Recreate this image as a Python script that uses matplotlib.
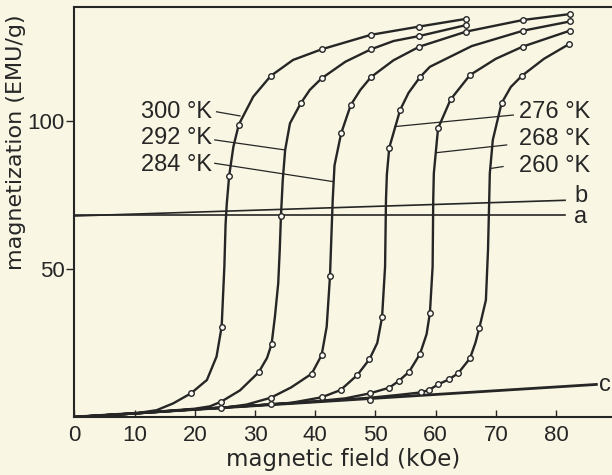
import numpy as np
import matplotlib
matplotlib.use("Agg")
import matplotlib.pyplot as plt

plt.rcParams['font.family'] = ['Liberation Sans', 'DejaVu Sans']

# traced curves (field kOe, magnetization EMU/g)
h_300 = [0, 10, 13.65, 16.4, 19.35, 22.0, 23.6, 24.45, 24.9, 25.1, 25.3, 25.7, 26.4, 27.3, 29.7, 32.6, 36.3, 41.06, 49.25, 57.3, 65.1]
m_300 = [0, 1.2, 2.3, 4.6, 8.0, 12.5, 20.4, 30.5, 50.8, 65, 72, 81.5, 91.3, 98.8, 108.2, 115.2, 120.6, 124.2, 129.1, 131.9, 134.5]

h_292 = [0, 10, 15, 20, 22.5, 24.4, 27.5, 30.6, 32.0, 32.75, 33.3, 33.85, 34.1, 34.3, 34.6, 35.0, 35.8, 37.6, 39.1, 41.06, 45, 49.25, 53, 57.3, 65.1]
m_292 = [0, 1.2, 2.0, 2.8, 3.6, 5.2, 9, 15.1, 20, 24.7, 33.9, 45.2, 56.4, 67.9, 80, 90.2, 99.2, 106.0, 110.5, 114.4, 120, 124.2, 127, 128.7, 132.4]

h_284 = [0, 10, 20, 24.3, 28.6, 32.6, 36, 39.4, 41.06, 41.9, 42.45, 42.7, 42.9, 43.2, 44.3, 45.9, 47.5, 49.25, 53, 57.3, 65.1, 74.5, 82.3]
m_284 = [0, 1.2, 2.6, 3.0, 4.2, 6.5, 10, 14.6, 20.9, 30.5, 47.6, 62.1, 73.3, 85, 95.8, 105.4, 110.5, 114.8, 120.5, 125.1, 130.2, 134.1, 136.1]

h_276 = [0, 10, 20, 30, 36, 41.06, 44.2, 47.0, 49.0, 50.3, 51.1, 51.6, 51.75, 51.9, 52.3, 54.1, 55.5, 57.4, 59.05, 66.0, 74.55, 82.3]
m_276 = [0, 1.2, 2.6, 3.9, 4.8, 6.65, 9.1, 14.2, 19.5, 25, 33.7, 50.8, 73.3, 82, 91.0, 103.7, 109.5, 114.8, 118.3, 125.3, 130.5, 133.6]

h_268 = [0, 10, 20, 30, 40, 45, 49.1, 52.3, 53.95, 55.6, 57.4, 58.5, 59.05, 59.5, 59.6, 59.7, 60.4, 62.5, 65.7, 70, 74.45, 82.3]
m_268 = [0, 1.2, 2.6, 3.9, 5.3, 6.3, 8.0, 9.9, 12.3, 15.3, 21.3, 28, 35.2, 50.8, 73.3, 82.3, 97.5, 107.3, 115.5, 121, 125.1, 130.5]

h_260 = [0, 10, 20, 30, 40, 49.1, 54, 57.5, 58.9, 60.4, 62.2, 63.75, 65.7, 66.6, 67.25, 68.35, 68.7, 68.9, 69.0, 69.5, 70.95, 72.5, 74.3, 78, 82.2]
m_260 = [0, 1.2, 2.6, 3.9, 5.2, 6.5, 7.5, 8.3, 9.1, 11.0, 12.7, 14.8, 19.8, 25, 30.0, 39.5, 56.4, 73.3, 82.3, 93.6, 106.0, 111.5, 115.2, 121, 126.0]

# measured points (open circles)
ph_300 = [19.35, 24.45, 25.7, 27.3, 32.6, 41.06, 49.25, 57.3, 65.1]
pm_300 = [8.0, 30.5, 81.5, 98.8, 115.2, 124.2, 129.1, 131.9, 134.5]
ph_292 = [24.4, 30.6, 32.75, 34.3, 37.6, 41.06, 49.25, 57.3, 65.1]
pm_292 = [5.2, 15.1, 24.7, 67.9, 106.0, 114.4, 124.2, 128.7, 132.4]
ph_284 = [24.3, 32.6, 39.4, 41.06, 42.45, 44.3, 45.9, 49.25, 57.3, 65.1, 74.5, 82.3]
pm_284 = [2.9, 6.5, 14.6, 20.9, 47.6, 95.8, 105.4, 114.8, 125.1, 130.2, 134.1, 136.1]
ph_276 = [32.6, 41.06, 44.2, 47.0, 49.0, 51.1, 52.3, 54.1, 57.4, 74.55, 82.3]
pm_276 = [4.3, 6.65, 9.1, 14.2, 19.5, 33.7, 91.0, 103.7, 114.8, 130.5, 133.6]
ph_268 = [49.1, 52.3, 53.95, 55.6, 57.4, 59.05, 60.4, 62.5, 65.7, 74.45, 82.3]
pm_268 = [8.0, 9.9, 12.3, 15.3, 21.3, 35.2, 97.5, 107.3, 115.5, 125.1, 130.5]
ph_260 = [49.1, 57.5, 58.9, 60.4, 62.2, 63.75, 65.7, 67.25, 70.95, 74.3, 82.2]
pm_260 = [5.7, 8.3, 9.1, 11.0, 12.7, 14.8, 19.8, 30.0, 106.0, 115.2, 126.0]

# straight reference lines a, b, c
line_a_h = [0, 81.5]
line_a_m = [68.2, 68.2]
line_b_h = [0, 81.5]
line_b_m = [67.9, 73.2]
line_c_h = [0, 86.7]
line_c_m = [0, 11.0]

ink = '#262626'
paper = '#f9f7e3'

fig = plt.figure(figsize=(6.12, 4.75), dpi=100, facecolor=paper)
ax = fig.add_axes([0.1217, 0.1221, 0.8783, 0.8632], facecolor=paper)

ax.plot(line_a_h, line_a_m, color=ink, lw=1.2)
ax.plot(line_b_h, line_b_m, color=ink, lw=1.2)
ax.plot(line_c_h, line_c_m, color=ink, lw=2.0)

curves = [(h_300, m_300, ph_300, pm_300), (h_292, m_292, ph_292, pm_292),
          (h_284, m_284, ph_284, pm_284), (h_276, m_276, ph_276, pm_276),
          (h_268, m_268, ph_268, pm_268), (h_260, m_260, ph_260, pm_260)]
for h, m, ph, pm in curves:
    ax.plot(h, m, color=ink, lw=1.7, solid_joinstyle='round')
    ax.plot(ph, pm, 'o', ms=4.0, mfc='#fdfcf4', mec=ink, mew=1.0, zorder=3)

fs = 16
fl = 17
# temperature labels with leader lines
ax.text(22.8, 103.0, '300 °K', fontsize=fl, ha='right', va='center', color=ink)
ax.text(22.8, 94.1, '292 °K', fontsize=fl, ha='right', va='center', color=ink)
ax.text(22.8, 85.1, '284 °K', fontsize=fl, ha='right', va='center', color=ink)
ax.plot([23.6, 27.5], [103.1, 101.7], color=ink, lw=0.9)
ax.plot([23.3, 35.0], [93.6, 90.2], color=ink, lw=0.9)
ax.plot([23.3, 43.0], [85.7, 79.5], color=ink, lw=0.9)

ax.text(73.8, 103.0, '276 °K', fontsize=fl, ha='left', va='center', color=ink)
ax.text(73.8, 93.9, '268 °K', fontsize=fl, ha='left', va='center', color=ink)
ax.text(73.8, 84.8, '260 °K', fontsize=fl, ha='left', va='center', color=ink)
ax.plot([72.9, 53.2], [102.0, 98.1], color=ink, lw=0.9)
ax.plot([71.8, 60.2], [91.9, 89.3], color=ink, lw=0.9)
ax.plot([71.2, 69.3], [84.6, 84.0], color=ink, lw=0.9)

ax.text(83.0, 74.7, 'b', fontsize=fl, ha='left', va='center', color=ink)
ax.text(83.0, 67.6, 'a', fontsize=fl, ha='left', va='center', color=ink)
ax.text(87.2, 10.8, 'c', fontsize=fl, ha='left', va='center', color=ink)

ax.set_xlim(0, 89.3)
ax.set_ylim(0, 138.5)
ax.set_xticks(np.arange(0, 90, 10))
ax.set_yticks([50, 100])
ax.tick_params(axis='x', direction='in', length=5, width=1, labelsize=fs, colors=ink, pad=6)
ax.tick_params(axis='y', direction='out', length=6, width=1, labelsize=fs, colors=ink, pad=1)
ax.spines['right'].set_visible(False)
for s in ['left', 'top', 'bottom']:
    ax.spines[s].set_linewidth(1.5)
    ax.spines[s].set_color(ink)

ax.set_xlabel('magnetic field (kOe)', fontsize=16.5, color=ink, family='DejaVu Sans')
ax.set_ylabel('magnetization (EMU/g)', fontsize=16, color=ink, family='DejaVu Sans')
ax.xaxis.set_label_coords(0.5, -0.075)
ax.yaxis.set_label_coords(-0.09, 0.67)

fig.savefig('out.png', dpi=100, facecolor=paper)
